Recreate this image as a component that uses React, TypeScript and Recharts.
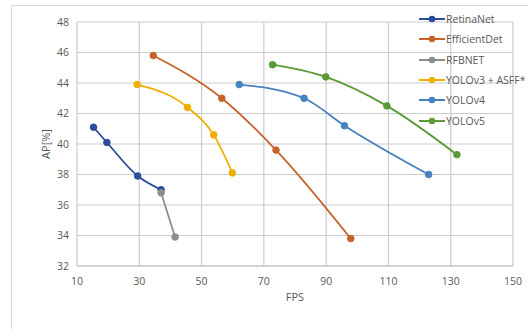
import { CartesianGrid, Line, LineChart, XAxis, YAxis } from "recharts";

// FPS / AP[%] pairs
const retinaNet = [
  { fps: 15.3, ap: 41.1 },
  { fps: 19.6, ap: 40.1 },
  { fps: 29.5, ap: 37.9 },
  { fps: 37.0, ap: 37.0 },
];
const efficientDet = [
  { fps: 34.5, ap: 45.8 },
  { fps: 56.5, ap: 43.0 },
  { fps: 73.9, ap: 39.6 },
  { fps: 97.9, ap: 33.8 },
];
const rfbNet = [
  { fps: 37.0, ap: 36.8 },
  { fps: 41.5, ap: 33.9 },
];
const yolov3Asff = [
  { fps: 29.3, ap: 43.9 },
  { fps: 45.5, ap: 42.4 },
  { fps: 53.9, ap: 40.6 },
  { fps: 59.9, ap: 38.1 },
];
const yolov4 = [
  { fps: 62.1, ap: 43.9 },
  { fps: 82.9, ap: 43.0 },
  { fps: 95.9, ap: 41.2 },
  { fps: 122.9, ap: 38.0 },
];
const yolov5 = [
  { fps: 72.8, ap: 45.2 },
  { fps: 89.9, ap: 44.4 },
  { fps: 109.5, ap: 42.5 },
  { fps: 132.0, ap: 39.3 },
];

const xTicks = [10, 30, 50, 70, 90, 110, 130, 150];
const yTicks = [32, 34, 36, 38, 40, 42, 44, 46, 48];

const series = [
  { name: "RetinaNet", data: retinaNet, color: "#2a4d9c" },
  { name: "EfficientDet", data: efficientDet, color: "#c7622a" },
  { name: "RFBNET", data: rfbNet, color: "#8e8e8e" },
  { name: "YOLOv3 + ASFF*", data: yolov3Asff, color: "#efae00" },
  { name: "YOLOv4", data: yolov4, color: "#4682c0" },
  { name: "YOLOv5", data: yolov5, color: "#5c9a36" },
];

const FONT = "'Open Sans', sans-serif";
const TEXT = "#595959";

function LegendBox() {
  return (
    <div
      style={{
        position: "absolute",
        left: 419,
        top: 9,
        fontFamily: FONT,
        fontSize: 10.5,
        color: TEXT,
      }}
    >
      {series.map((s) => (
        <div key={s.name} style={{ display: "flex", alignItems: "center", height: 20.3 }}>
          <svg width={26} height={10} style={{ marginRight: 1 }}>
            <line x1={0} y1={5} x2={26} y2={5} stroke={s.color} strokeWidth={2} />
            <circle cx={13} cy={5} r={3.3} fill={s.color} />
          </svg>
          <span>{s.name}</span>
        </div>
      ))}
    </div>
  );
}

export default function App() {
  return (
    <div
      style={{
        position: "absolute",
        left: 0,
        top: 0,
        width: 528,
        height: 329,
        background: "#fff",
        overflow: "hidden",
      }}
    >
      <div
        style={{
          position: "absolute",
          left: 11,
          top: 5,
          width: 540,
          height: 340,
          border: "1px solid #d9d9d9",
        }}
      />
      <LineChart
        width={528}
        height={329}
        margin={{ top: 22, right: 15, bottom: 33, left: 0 }}
        style={{ fontFamily: FONT, position: "absolute", left: 0, top: 0 }}
      >
        <CartesianGrid stroke="#cccccc" strokeWidth={1.2} />
        <XAxis
          type="number"
          dataKey="fps"
          domain={[10, 150]}
          ticks={xTicks}
          interval={0}
          allowDataOverflow
          height={30}
          stroke="#bfbfbf"
          tickLine={false}
          tickMargin={6}
          tick={{ fill: TEXT, fontSize: 10.5 }}
          label={{ value: "FPS", position: "insideBottom", offset: -5, fill: TEXT, fontSize: 11 }}
        />
        <YAxis
          type="number"
          dataKey="ap"
          domain={[32, 48]}
          ticks={yTicks}
          interval={0}
          width={77}
          axisLine={false}
          tickLine={false}
          tickMargin={2}
          tick={{ fill: TEXT, fontSize: 10.5 }}
          label={{
            value: "AP[%]",
            angle: -90,
            position: "insideLeft",
            offset: 46,
            fill: TEXT,
            fontSize: 11,
            style: { textAnchor: "middle" },
          }}
        />
        {series.map((s) => (
          <Line
            key={s.name}
            name={s.name}
            data={s.data}
            dataKey="ap"
            type="monotone"
            stroke={s.color}
            strokeWidth={1.8}
            dot={{ r: 3.3, fill: s.color, stroke: s.color, strokeWidth: 1 }}
            isAnimationActive={false}
          />
        ))}
      </LineChart>
      <LegendBox />
    </div>
  );
}
